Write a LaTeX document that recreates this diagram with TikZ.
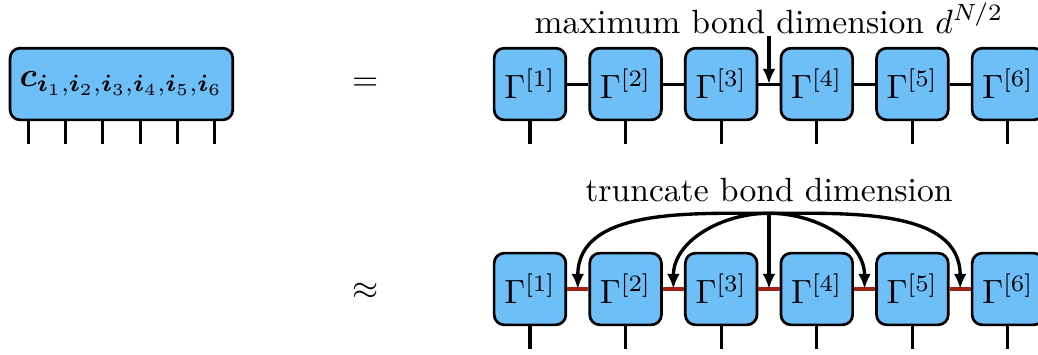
\documentclass[tikz,border=0pt]{standalone}
\usepackage{amsmath}
\usepackage{amssymb}
\usepackage{tikz}
\usetikzlibrary{arrows.meta}

\definecolor{tensorblue}{RGB}{110,190,247}
\definecolor{bondred}{RGB}{160,35,20}

\tikzset{
  tensor/.style={draw, line width=0.8pt, fill=tensorblue, rounded corners=3pt,
    minimum width=0.75cm, minimum height=0.75cm, inner sep=0pt},
  leg/.style={line width=0.9pt},
  bond/.style={line width=0.9pt},
  cutbond/.style={line width=0.9pt, bondred},
  pointer/.style={line width=1pt, -{Latex[length=4.5pt,width=3.8pt]}},
}

\begin{document}
\begin{tikzpicture}
\clip (0,0) rectangle (10.858,3.703);

% full coefficient tensor
\node[tensor, minimum width=2.33cm] (coef) at (1.27,2.824) {$\boldsymbol{c}_{\boldsymbol{i}_1,\boldsymbol{i}_2,\boldsymbol{i}_3,\boldsymbol{i}_4,\boldsymbol{i}_5,\boldsymbol{i}_6}$};
\foreach \dx in {-0.975,-0.585,-0.195,0.195,0.585,0.975}
  \draw[leg] ([xshift=\dx cm]coef.south) -- ++(0,-0.24);
\node (eq) at (3.82,2.824) {$=$};
\node (approx) at (3.82,0.66) {$\approx$};

% exact MPS
\node[tensor] (g1) at (5.544,2.824) {$\Gamma^{[1]}$};
\node[tensor] (g2) at (6.544,2.824) {$\Gamma^{[2]}$};
\node[tensor] (g3) at (7.544,2.824) {$\Gamma^{[3]}$};
\node[tensor] (g4) at (8.544,2.824) {$\Gamma^{[4]}$};
\node[tensor] (g5) at (9.544,2.824) {$\Gamma^{[5]}$};
\node[tensor] (g6) at (10.544,2.824) {$\Gamma^{[6]}$};
\draw[bond] (g1) -- (g2) -- (g3) -- (g4) -- (g5) -- (g6);
\foreach \g in {g1,g2,g3,g4,g5,g6}
  \draw[leg] (\g.south) -- ++(0,-0.24);
\path (g3) -- (g4) coordinate[midway] (m34);
\node[anchor=base, inner sep=0.5pt] (maxlbl) at (8.044,3.357) {maximum bond dimension $d^{N/2}$};
\draw[pointer] (maxlbl.south) -- (m34);

% truncated MPS
\node[tensor] (t1) at (5.544,0.68) {$\Gamma^{[1]}$};
\node[tensor] (t2) at (6.544,0.68) {$\Gamma^{[2]}$};
\node[tensor] (t3) at (7.544,0.68) {$\Gamma^{[3]}$};
\node[tensor] (t4) at (8.544,0.68) {$\Gamma^{[4]}$};
\node[tensor] (t5) at (9.544,0.68) {$\Gamma^{[5]}$};
\node[tensor] (t6) at (10.544,0.68) {$\Gamma^{[6]}$};
\draw[cutbond] (t1) -- (t2) -- (t3) -- (t4) -- (t5) -- (t6);
\foreach \t in {t1,t2,t3,t4,t5,t6}
  \draw[leg] (\t.south) -- ++(0,-0.24);
\path (t1) -- (t2) coordinate[midway] (n12);
\path (t2) -- (t3) coordinate[midway] (n23);
\path (t3) -- (t4) coordinate[midway] (n34);
\path (t4) -- (t5) coordinate[midway] (n45);
\path (t5) -- (t6) coordinate[midway] (n56);
\node[anchor=base] (trunclbl) at (8.044,1.6) {truncate bond dimension};
\draw[pointer] (trunclbl.south) to[out=180,in=90] (n12);
\draw[pointer] (trunclbl.south) to[out=180,in=90] (n23);
\draw[pointer] (trunclbl.south) -- (n34);
\draw[pointer] (trunclbl.south) to[out=0,in=90] (n45);
\draw[pointer] (trunclbl.south) to[out=0,in=90] (n56);
\end{tikzpicture}
\end{document}
